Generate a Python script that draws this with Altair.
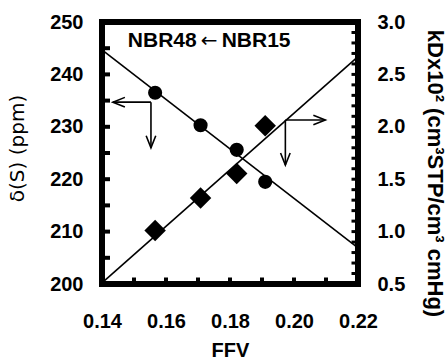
import altair as alt
import pandas as pd

# ---- data ----
ffv = [0.1566, 0.1708, 0.1821, 0.1910]
delta_s = [236.5, 230.3, 225.6, 219.5]          # left axis, circles
kd = [1.01, 1.32, 1.555, 2.01]                  # right axis, diamonds

line_x = [0.14, 0.22]
desc_y = [244.7, 206.9]                         # fit line for delta(S)
asc_k = [0.51, 2.67]                            # fit line for kD

arrow_x1 = [0.1553, 0.1553, 0.1973, 0.1973]
arrow_y1 = [234.7, 234.7, 231.3, 231.3]
arrow_x2 = [0.1434, 0.1553, 0.2098, 0.1973]
arrow_y2 = [234.7, 226.0, 231.3, 222.7]
arrow_angle = [90, 0, 270, 0]

label_text = ["NBR48", "\u2190", "NBR15"]
label_x = [0.1696, 0.1735, 0.1774]
label_y = [245.2, 245.2, 245.2]

x_tick_labels = [0.14, 0.16, 0.18, 0.20, 0.22]
yl_tick_labels = [200, 210, 220, 230, 240, 250]
yr_tick_labels = [0.5, 1.0, 1.5, 2.0, 2.5, 3.0]
bottom_ticks = [0.15, 0.16, 0.17, 0.18, 0.19, 0.20, 0.21]
left_ticks = [205, 210, 215, 220, 225, 230, 235, 240, 245]
right_ticks = [0.6, 0.7, 0.8, 0.9, 1.0, 1.1, 1.2, 1.3, 1.4, 1.5, 1.6, 1.7, 1.8,
               1.9, 2.0, 2.1, 2.2, 2.3, 2.4, 2.5, 2.6, 2.7, 2.8, 2.9]

W, H = 256, 262
FONT = "Liberation Sans"

xscale = alt.Scale(domain=[0.14, 0.22], nice=False, zero=False)
yl_scale = alt.Scale(domain=[200, 250], nice=False, zero=False)
yr_scale = alt.Scale(domain=[0.5, 3.0], nice=False, zero=False)

common = dict(ticks=False, domain=False, grid=False, labelFlush=False,
              labelOverlap=False, labelFont=FONT, labelFontSize=20,
              labelFontWeight="bold", labelColor="black", titleColor="black")

xaxis = alt.Axis(values=x_tick_labels, format=".2f", labelPadding=27,
                 title="FFV", titleFont=FONT, titleFontSize=20,
                 titleFontWeight="bold", titleX=128, titleY=72,
                 titleBaseline="alphabetic", titleAlign="center", **common)
ylaxis = alt.Axis(values=yl_tick_labels, format="d", labelPadding=19,
                  title="\u03b4(S) (ppm)", titleFont="DejaVu Sans",
                  titleFontSize=20, titleFontWeight="normal", titleAngle=270,
                  titleX=-79, titleY=126, titleBaseline="alphabetic",
                  titleAlign="center", **common)
yraxis = alt.Axis(values=yr_tick_labels, format=".1f", labelPadding=19,
                  orient="right",
                  title="kDx10\u00b2 (cm\u00b3STP/cm\u00b3 cmHg)", titleFont=FONT,
                  titleFontSize=22, titleFontWeight="bold", titleAngle=90,
                  titleX=69, titleY=151, titleBaseline="alphabetic",
                  titleAlign="center", **common)

X = alt.X("x:Q", scale=xscale, axis=xaxis)
YL = alt.Y("y:Q", scale=yl_scale, axis=ylaxis)
YR = alt.Y("k:Q", scale=yr_scale, axis=yraxis)

pts = pd.DataFrame({"x": ffv, "y": delta_s})
dia = pd.DataFrame({"x": ffv, "k": kd})
desc = pd.DataFrame({"x": line_x, "y": desc_y})
asc = pd.DataFrame({"x": line_x, "k": asc_k})
shafts = pd.DataFrame({"x": arrow_x1, "y": arrow_y1, "x2": arrow_x2, "y2": arrow_y2})
heads = pd.DataFrame({"x": arrow_x2, "y": arrow_y2, "ang": arrow_angle})
bt = pd.DataFrame({"x": bottom_ticks})
lt = pd.DataFrame({"y": left_ticks})
rt = pd.DataFrame({"k": right_ticks})

desc_line = alt.Chart(desc).mark_line(color="black", strokeWidth=1.6).encode(x=X, y=YL)
circles = alt.Chart(pts).mark_point(shape="circle", filled=True, size=200,
                                    color="black", opacity=1).encode(x=X, y=YL)
shaft_rules = alt.Chart(shafts).mark_rule(color="black", strokeWidth=1.6).encode(
    x=X, y=YL, x2="x2:Q", y2="y2:Q")
head_marks = alt.Chart(heads).mark_point(
    shape="M -0.4 -1 L 0 0 L 0.4 -1", filled=False, size=576, stroke="black",
    strokeWidth=1.6, opacity=1).encode(x=X, y=YL, angle=alt.Angle("ang:Q", scale=None))
bticks = alt.Chart(bt).mark_rule(color="black", strokeWidth=4).encode(
    x=X, y=alt.value(H), y2=alt.value(H - 6.5))
lticks = alt.Chart(lt).mark_rule(color="black", strokeWidth=4).encode(
    y=YL, x=alt.value(0), x2=alt.value(8))

texts = []
aligns = ["right", "center", "left"]
for i in range(3):
    df = pd.DataFrame({"x": [label_x[i]], "y": [label_y[i]], "t": [label_text[i]]})
    if i == 1:
        mk = alt.Chart(df).mark_text(align=aligns[i], baseline="alphabetic",
                                     font="DejaVu Sans", fontSize=20,
                                     fontWeight="normal", color="black")
    else:
        mk = alt.Chart(df).mark_text(align=aligns[i], baseline="alphabetic",
                                     font=FONT, fontSize=21, fontWeight="bold",
                                     color="black")
    texts.append(mk.encode(x=X, y=YL, text="t:N"))

left = alt.layer(desc_line, circles, shaft_rules, head_marks, lticks, bticks, *texts)

asc_line = alt.Chart(asc).mark_line(color="black", strokeWidth=1.6).encode(x=X, y=YR)
diamonds = alt.Chart(dia).mark_point(shape="diamond", filled=True, size=460,
                                     color="black", opacity=1).encode(x=X, y=YR)
rticks = alt.Chart(rt).mark_rule(color="black", strokeWidth=3).encode(
    y=YR, x=alt.value(W), x2=alt.value(W - 6.5))
right = alt.layer(asc_line, diamonds, rticks)

chart = alt.layer(left, right).resolve_scale(y="independent").properties(
    width=W, height=H,
    padding={"left": 102, "top": 22, "right": 90, "bottom": 77},
    autosize=alt.AutoSizeParams(type="none"),
    background="white",
).configure_view(stroke="black", strokeWidth=6)

chart.save("out.html", embed_options={"renderer": "svg", "actions": False})
